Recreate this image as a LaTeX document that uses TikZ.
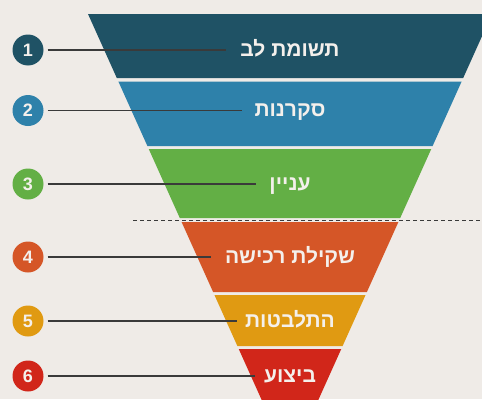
\documentclass[tikz,border=0pt]{standalone}
\usepackage{fontspec}
\setmainfont{Liberation Sans}
\newfontfamily\hebfont[Script=Hebrew]{Liberation Sans}
\TeXXeTstate=1
\usepackage{tikz}
\usetikzlibrary{positioning}

\definecolor{bg}{HTML}{EFEBE7}
\definecolor{ink}{HTML}{F4F0EC}
\definecolor{rule}{HTML}{3A3A3A}
\definecolor{bandA}{HTML}{1F5265}
\definecolor{bandB}{HTML}{2E81AA}
\definecolor{bandC}{HTML}{63AF45}
\definecolor{bandD}{HTML}{D55627}
\definecolor{bandE}{HTML}{E09A12}
\definecolor{bandF}{HTML}{D1261A}

\begin{document}
\begin{tikzpicture}[x=1pt,y=-1pt]
        \tikzstyle{stage num}=[circle,minimum size=31pt,inner sep=0pt,text=ink,font=\bfseries\fontsize{18}{18}\selectfont]
        \tikzstyle{stage label}=[anchor=base,inner sep=0pt,text=ink,font=\hebfont\bfseries\fontsize{21}{21}\selectfont]
        \tikzstyle{pointer}=[draw=rule,line width=1.2pt]

        \fill[bg] (0,0) rectangle (482,399);
        \useasboundingbox (0,0) rectangle (482,399);
        \clip (0,0) rectangle (482,399);

        % funnel bands, numbers and pointers
        \foreach \n/\t/\b/\col/\ly/\lx/\lab in {
            1/14/78/bandA/50/226/{תשומת לב},
            2/81.5/146/bandB/110.5/242/{סקרנות},
            3/149/218/bandC/184/256/{עניין},
            4/222/292/bandD/257/211/{שקילת רכישה},
            5/295/346/bandE/321/237/{התלבטות},
            6/349/410/bandF/376/255/{ביצוע}} {
          \pgfmathsetmacro{\lt}{88+0.45*(\t-14)}
          \pgfmathsetmacro{\lb}{88+0.45*(\b-14)}
          \fill[\col] (\lt,\t) -- ({580-\lt},\t) -- ({580-\lb},\b) -- (\lb,\b) -- cycle;

          \node[stage num,fill=\col] (c\n) at (28,\ly) {\n};
          \coordinate (e\n) at (\lx,\ly);
          \draw[pointer] ([xshift=4pt]c\n.east) -- (e\n);
          \node[stage label] (l\n) at (290,{\ly+6}) {\beginR\lab\endR};
        }

        % divider
        \coordinate (d1) at (133,220);
        \coordinate (d2) at (482,220);
        \draw[rule,line width=0.9pt,dash pattern=on 4pt off 3pt] (d1) -- (d2);
\end{tikzpicture}
\end{document}
